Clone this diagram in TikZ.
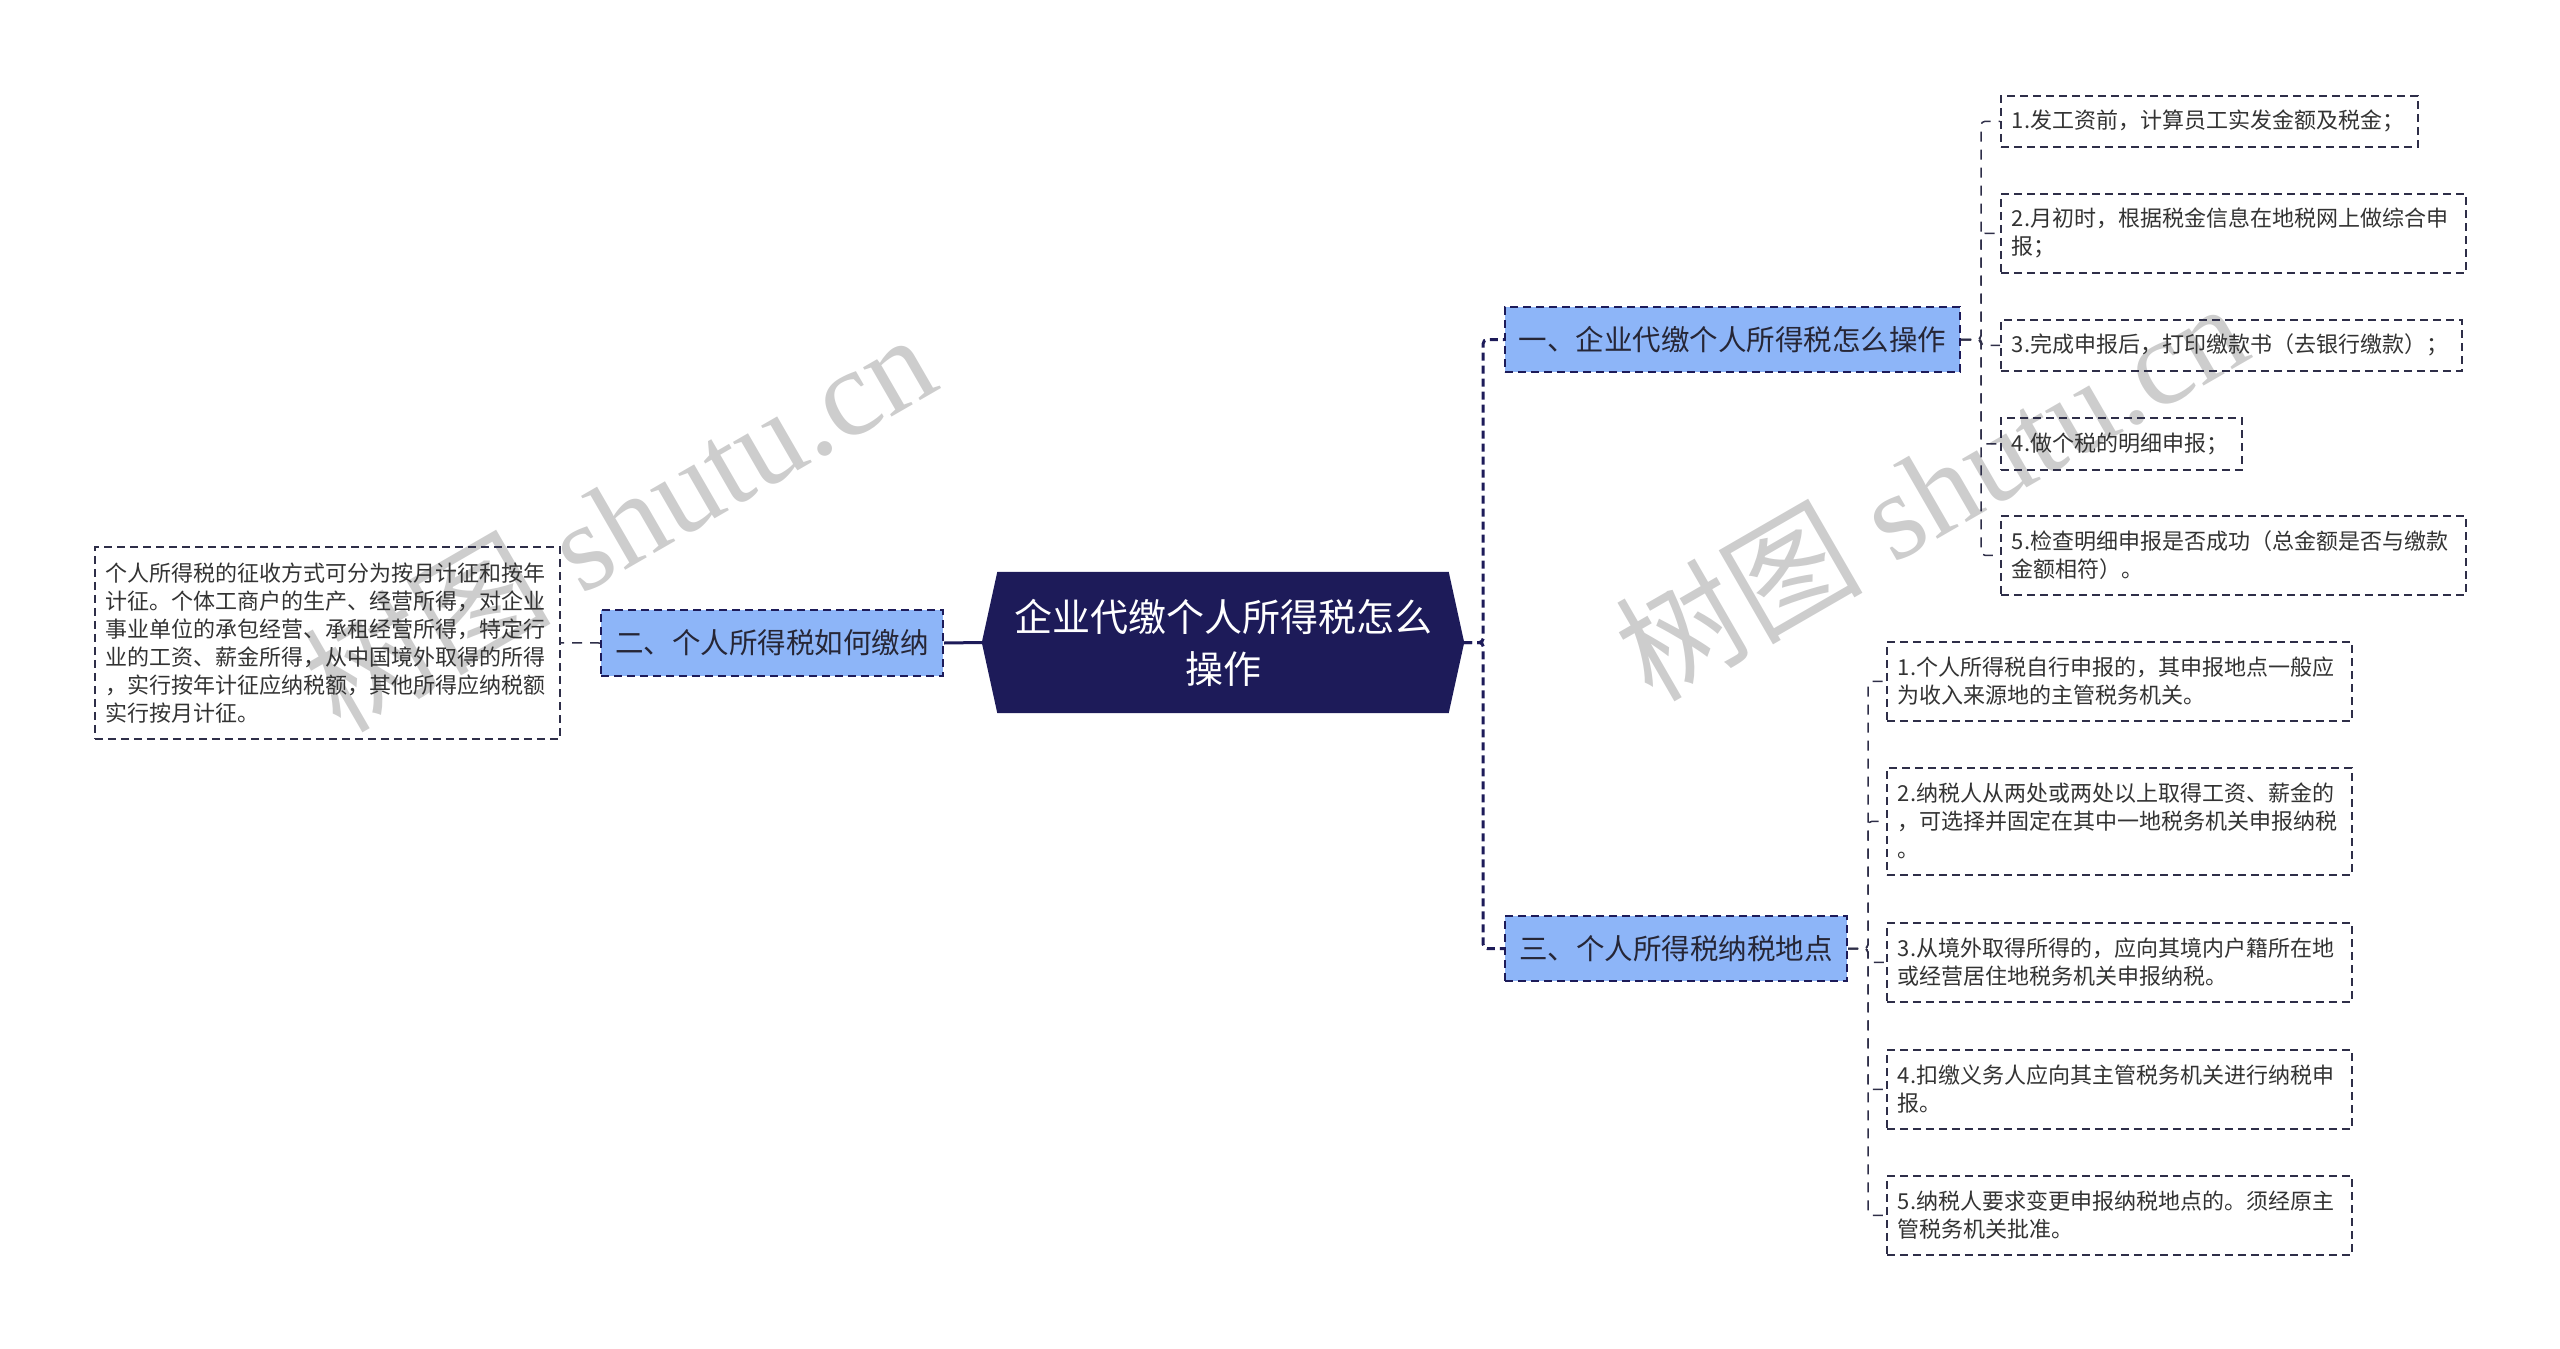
\documentclass[tikz,border=0pt]{standalone}
\usepackage{fontspec}
\setmainfont{Noto Sans CJK SC}
\newfontfamily\wmcjk{Noto Sans CJK SC}
\newfontfamily\wmlat{Liberation Serif}
\definecolor{navy}{HTML}{1D1B59}
\definecolor{bluefill}{HTML}{8DB5F8}
\definecolor{bordc}{HTML}{2E2E48}
\definecolor{txtc}{HTML}{333333}
\definecolor{bluetxt}{HTML}{262636}
\definecolor{wmc}{HTML}{CDCDCD}
\begin{document}
\begin{tikzpicture}[x=1pt,y=-1pt,
 box/.style={draw=bordc, line width=1.6pt, dash pattern=on 8pt off 5pt, anchor=north west, inner xsep=11pt, inner ysep=0pt, align=left, text=txtc, font=\fontsize{22}{28}\selectfont},
 topic/.style={draw=navy, line width=2pt, dash pattern=on 8pt off 5pt, fill=bluefill, anchor=north west, inner xsep=10pt, inner ysep=0pt, text=bluetxt, font=\fontsize{28.5}{34}\selectfont},
 mainlink/.style={draw=navy, line width=3pt, dash pattern=on 8pt off 5pt, rounded corners=4pt},
 sublink/.style={draw=bordc, line width=1.5pt, dash pattern=on 10pt off 8pt, rounded corners=4pt},
 wm/.style={text=wmc, font=\fontsize{124}{124}\selectfont, rotate=30, anchor=base west, inner sep=0pt}
]
\useasboundingbox (0,0) rectangle (2560,1349);
\clip (0,0) rectangle (2560,1349);
% watermarks
\node[wm] (wm1) at (1652,704) {{\wmcjk 树图}{\wmlat\ shutu.cn}};
\node[wm] (wm2) at (340,735) {{\wmcjk 树图}{\wmlat\ shutu.cn}};
% central topic
\node[minimum width=482pt, minimum height=141pt, inner sep=0pt] (c) at (1223,642.5) {};
\fill[navy] (c.west) -- ([xshift=15.5pt]c.north west) -- ([xshift=-15.5pt]c.north east) -- (c.east) -- ([xshift=-15.5pt]c.south east) -- ([xshift=15.5pt]c.south west) -- cycle;
\node[text=white, align=center, inner sep=0pt, font=\fontsize{38}{52}\selectfont] (ct) at (c.center) {企业代缴个人所得税怎么\\操作};
% main topics
\node[topic, minimum width=342pt, minimum height=66pt] (n2) at (600,609) {二、个人所得税如何缴纳};
\node[topic, minimum width=455pt, minimum height=65pt] (n1) at (1504,306) {一、企业代缴个人所得税怎么操作};
\node[topic, minimum width=342pt, minimum height=65pt] (n3) at (1504,915) {三、个人所得税纳税地点};
% left detail
\node[box, minimum width=465pt, minimum height=192pt, text width=443pt] (lb) at (94,546) {个人所得税的征收方式可分为按月计征和按年\\计征。个体工商户的生产、经营所得，对企业\\事业单位的承包经营、承租经营所得，特定行\\业的工资、薪金所得，从中国境外取得的所得\\，实行按年计征应纳税额，其他所得应纳税额\\实行按月计征。};
% children of n1
\node[box, minimum width=417pt, minimum height=51pt, text width=395pt] (a1) at (2000,95) {1.发工资前，计算员工实发金额及税金；};
\node[box, minimum width=465pt, minimum height=79pt, text width=443pt] (a2) at (2000,193) {2.月初时，根据税金信息在地税网上做综合申\\报；};
\node[box, minimum width=461pt, minimum height=51pt, text width=439pt] (a3) at (2000,319) {3.完成申报后，打印缴款书（去银行缴款）；};
\node[box, minimum width=241pt, minimum height=52pt, text width=219pt] (a4) at (2000,417) {4.做个税的明细申报；};
\node[box, minimum width=465pt, minimum height=79pt, text width=443pt] (a5) at (2000,515) {5.检查明细申报是否成功（总金额是否与缴款\\金额相符）。};
% children of n3
\node[box, minimum width=465pt, minimum height=79pt, text width=443pt] (b1) at (1886,641) {1.个人所得税自行申报的，其申报地点一般应\\为收入来源地的主管税务机关。};
\node[box, minimum width=465pt, minimum height=107pt, text width=443pt] (b2) at (1886,767) {2.纳税人从两处或两处以上取得工资、薪金的\\，可选择并固定在其中一地税务机关申报纳税\\。};
\node[box, minimum width=465pt, minimum height=79pt, text width=443pt] (b3) at (1886,922) {3.从境外取得所得的，应向其境内户籍所在地\\或经营居住地税务机关申报纳税。};
\node[box, minimum width=465pt, minimum height=79pt, text width=443pt] (b4) at (1886,1049) {4.扣缴义务人应向其主管税务机关进行纳税申\\报。};
\node[box, minimum width=465pt, minimum height=79pt, text width=443pt] (b5) at (1886,1175) {5.纳税人要求变更申报纳税地点的。须经原主\\管税务机关批准。};
% connectors
\draw[mainlink] (c.east) -- ++(19,0) |- (n1.west);
\draw[mainlink] (c.east) -- ++(19,0) |- (n3.west);
\draw[navy, line width=3pt] (c.west) -- (n2.east);
\draw[sublink] (n2.west) -- (lb.east);
\foreach \k in {a1,a2,a3,a4,a5} \draw[sublink] (n1.east) -- ++(20,0) |- (\k.west);
\foreach \k in {b1,b2,b3,b4,b5} \draw[sublink] (n3.east) -- ++(20,0) |- (\k.west);
\end{tikzpicture}
\end{document}
